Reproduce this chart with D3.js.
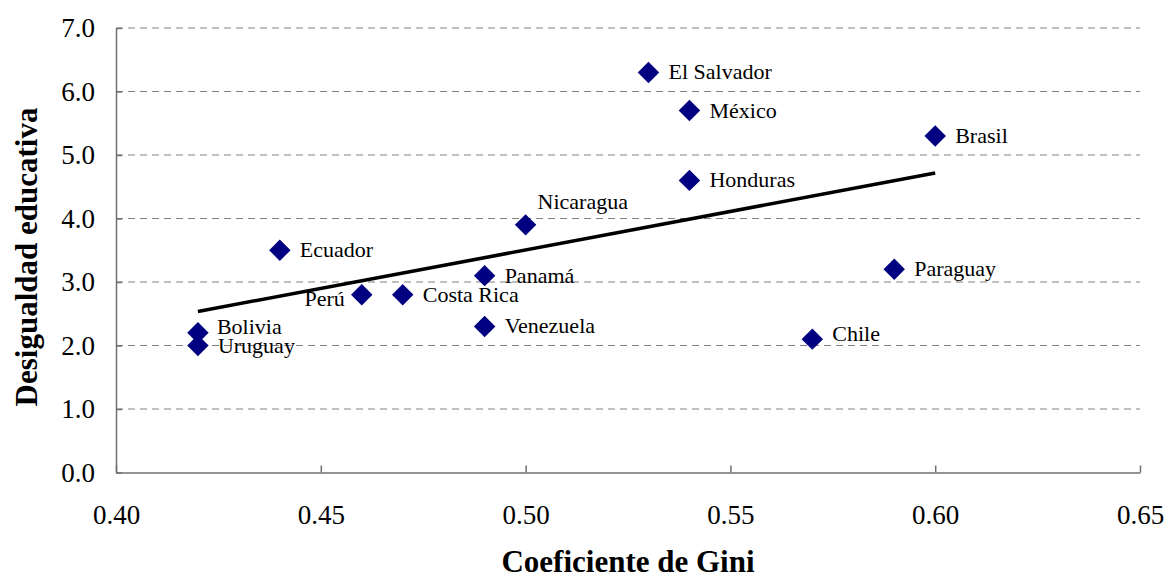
<!DOCTYPE html>
<html>
<head>
<meta charset="utf-8">
<script src="https://cdn.jsdelivr.net/npm/d3@7"></script>
<style>
  body { margin: 0; background: #fff; }
  svg { display: block; }
  text { font-family: "Liberation Serif", "Times New Roman", serif; }
</style>
</head>
<body>
<svg id="chart" width="1168" height="579"></svg>
<script>
// data
var countries = ['El Salvador', 'México', 'Brasil', 'Honduras', 'Nicaragua', 'Ecuador', 'Panamá',
  'Paraguay', 'Perú', 'Costa Rica', 'Venezuela', 'Chile', 'Bolivia', 'Uruguay'];
var gini = [0.53, 0.54, 0.60, 0.54, 0.50, 0.44, 0.49, 0.59, 0.46, 0.47, 0.49, 0.57, 0.42, 0.42];
var desigualdad = [6.3, 5.7, 5.3, 4.6, 3.9, 3.5, 3.1, 3.2, 2.8, 2.8, 2.3, 2.1, 2.2, 2.0];

var xTicks = [0.40, 0.45, 0.50, 0.55, 0.60, 0.65];
var yTicks = [0, 1, 2, 3, 4, 5, 6, 7];

// label placement: [dx, dy, anchor]
var labelPos = {
  'Nicaragua': [12, -16, 'start'],
  'Perú': [-17, 11, 'end'],
  'Bolivia': [19, 1, 'start'],
  'Chile': [20, 2, 'start']
};

var FONT = '"Liberation Serif", "Times New Roman", serif';

var svg = d3.select('#chart');
var plotLeft = 116, plotRight = 1140, plotTop = 28, plotBottom = 472.5;

var x = d3.scaleLinear().domain([0.40, 0.65]).range([plotLeft, plotRight]);
var y = d3.scaleLinear().domain([0, 7]).range([plotBottom, plotTop]);

// gridlines
svg.append('g')
  .selectAll('line')
  .data(yTicks.filter(d => d > 0))
  .join('line')
  .attr('x1', plotLeft).attr('x2', plotRight)
  .attr('y1', d => y(d)).attr('y2', d => y(d))
  .attr('stroke', '#808080')
  .attr('stroke-width', 1)
  .attr('stroke-dasharray', '7,5');

// axes
var xAxis = svg.append('g')
  .attr('transform', 'translate(0,' + plotBottom + ')')
  .call(d3.axisBottom(x).tickValues(xTicks).tickFormat(d3.format('.2f'))
    .tickSizeInner(-7).tickSizeOuter(0).tickPadding(32));

var yAxis = svg.append('g')
  .attr('transform', 'translate(' + plotLeft + ',0)')
  .call(d3.axisLeft(y).tickValues(yTicks).tickFormat(d3.format('.1f'))
    .tickSizeInner(-6).tickSizeOuter(0).tickPadding(21));

[xAxis, yAxis].forEach(function(g) {
  g.attr('font-family', FONT);
  g.select('.domain').attr('stroke', '#707070').attr('stroke-width', 1.5);
  g.selectAll('.tick line').attr('stroke', '#707070').attr('stroke-width', 1.5);
  g.selectAll('.tick text')
    .attr('fill', '#000')
    .style('font-size', '27px')
    .style('font-family', FONT);
});

// trend line (least squares)
var mx = d3.mean(gini), my = d3.mean(desigualdad);
var sxy = d3.sum(gini, (g, i) => (g - mx) * (desigualdad[i] - my));
var sxx = d3.sum(gini, g => (g - mx) * (g - mx));
var slope = sxy / sxx, intercept = my - slope * mx;
var xr = d3.extent(gini);

svg.append('line')
  .attr('x1', x(xr[0])).attr('y1', y(intercept + slope * xr[0]))
  .attr('x2', x(xr[1])).attr('y2', y(intercept + slope * xr[1]))
  .attr('stroke', '#000')
  .attr('stroke-width', 3.5);

// points
var pts = countries.map((c, i) => ({name: c, gx: gini[i], dy: desigualdad[i]}));

svg.append('g')
  .selectAll('path')
  .data(pts)
  .join('path')
  .attr('d', d3.symbol().type(d3.symbolSquare).size(230))
  .attr('transform', d => 'translate(' + x(d.gx) + ',' + y(d.dy) + ') rotate(45)')
  .attr('fill', '#000080');

svg.append('g')
  .selectAll('text')
  .data(pts)
  .join('text')
  .attr('x', d => x(d.gx) + (labelPos[d.name] ? labelPos[d.name][0] : 20))
  .attr('y', d => y(d.dy) + (labelPos[d.name] ? labelPos[d.name][1] : 7))
  .attr('text-anchor', d => labelPos[d.name] ? labelPos[d.name][2] : 'start')
  .style('font-family', FONT)
  .style('font-size', '22px')
  .text(d => d.name);

// axis titles
svg.append('text')
  .attr('x', (plotLeft + plotRight) / 2)
  .attr('y', 572)
  .attr('text-anchor', 'middle')
  .style('font-family', FONT)
  .style('font-size', '31px')
  .style('font-weight', 'bold')
  .text('Coeficiente de Gini');

svg.append('text')
  .attr('transform', 'translate(37,257) rotate(-90)')
  .attr('text-anchor', 'middle')
  .style('font-family', FONT)
  .style('font-size', '31px')
  .style('font-weight', 'bold')
  .text('Desigualdad educativa');
</script>
</body>
</html>
